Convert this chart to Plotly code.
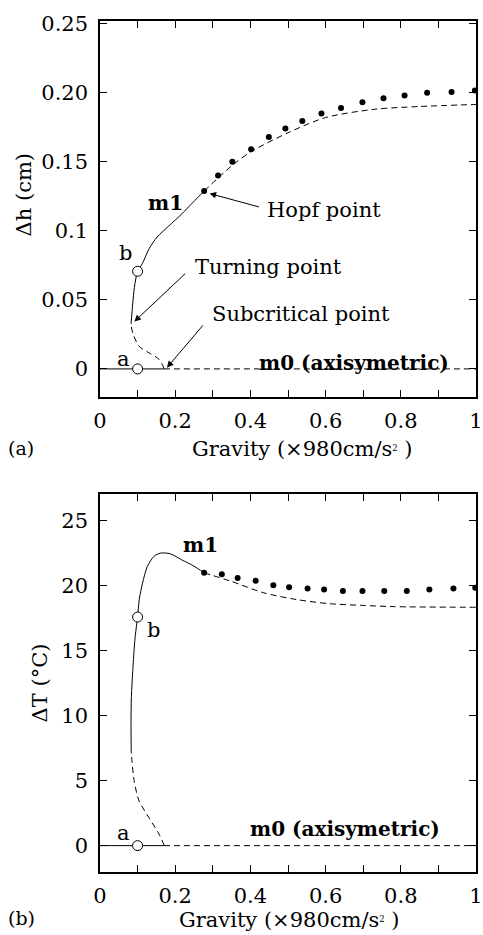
import plotly.graph_objects as go

# ---------------- data: panel (a) delta h ----------------
a_m0_stable_x = [0.0, 0.17]
a_m0_stable_y = [0.0, 0.0]
a_m0_unstable_x = [0.17, 1.0]
a_m0_unstable_y = [0.0, 0.0]
a_m1_low_x = [0.171, 0.157, 0.13, 0.104, 0.087, 0.0825]
a_m1_low_y = [0.0, 0.0069, 0.0117, 0.0164, 0.026, 0.0326]
a_m1_stable_x = [0.0825, 0.087, 0.0914, 0.100, 0.113, 0.1305, 0.152, 0.183, 0.2175, 0.248, 0.277]
a_m1_stable_y = [0.0326, 0.047, 0.059, 0.0707, 0.0765, 0.0870, 0.0955, 0.1035, 0.1122, 0.1208, 0.1288]
a_m1_unst_x = [0.277, 0.35, 0.4, 0.5, 0.6, 0.73, 0.85, 1.0]
a_m1_unst_y = [0.1288, 0.147, 0.157, 0.171, 0.182, 0.188, 0.190, 0.1915]
a_osc_x = [0.277, 0.314, 0.352, 0.402, 0.449, 0.493, 0.538, 0.589, 0.641, 0.698, 0.754, 0.810, 0.870, 0.935, 0.997]
a_osc_y = [0.1288, 0.140, 0.150, 0.159, 0.168, 0.174, 0.1795, 0.185, 0.189, 0.193, 0.196, 0.198, 0.200, 0.2005, 0.2016]
a_points_x = [0.1, 0.1]
a_points_y = [0.0, 0.0707]

# ---------------- data: panel (b) delta T ----------------
b_m0_stable_x = [0.0, 0.17]
b_m0_stable_y = [0.0, 0.0]
b_m0_unstable_x = [0.17, 1.0]
b_m0_unstable_y = [0.0, 0.0]
b_m1_low_x = [0.171, 0.157, 0.13, 0.104, 0.091, 0.085, 0.083]
b_m1_low_y = [0.0, 0.89, 2.16, 3.44, 4.96, 6.5, 7.3]
b_m1_stable_x = [0.083, 0.0825, 0.0835, 0.087, 0.091, 0.094, 0.100, 0.1044, 0.113, 0.126, 0.1436, 0.161, 0.187, 0.2175, 0.248, 0.277]
b_m1_stable_y = [7.3, 9.5, 11.5, 13.4, 15.2, 16.2, 17.6, 18.95, 20.2, 21.5, 22.27, 22.52, 22.47, 22.0, 21.55, 21.0]
b_m1_unst_x = [0.277, 0.348, 0.435, 0.522, 0.609, 0.696, 0.783, 1.0]
b_m1_unst_y = [21.0, 20.36, 19.47, 18.95, 18.63, 18.5, 18.4, 18.35]
b_osc_x = [0.277, 0.324, 0.366, 0.414, 0.461, 0.503, 0.552, 0.596, 0.646, 0.698, 0.756, 0.816, 0.876, 0.940, 0.998]
b_osc_y = [21.0, 20.9, 20.6, 20.4, 20.05, 19.9, 19.8, 19.72, 19.6, 19.6, 19.6, 19.6, 19.72, 19.8, 19.85]
b_points_x = [0.1, 0.1]
b_points_y = [0.0, 17.6]

x_tickvals = [0, 0.2, 0.4, 0.6, 0.8, 1.0]
x_ticktext = ["0", "0.2", "0.4", "0.6", "0.8", "1"]
a_y_tickvals = [0, 0.05, 0.1, 0.15, 0.20, 0.25]
a_y_ticktext = ["0", "0.05", "0.1", "0.15", "0.20", "0.25"]
b_y_tickvals = [0, 5, 10, 15, 20, 25]
b_y_ticktext = ["0", "5", "10", "15", "20", "25"]

FONT = "DejaVu Serif"
SOLID = dict(color="black", width=1)
DASH = dict(color="black", width=1, dash="6px,4px")

fig = go.Figure()


def add_panel(xa, ya, m0s, m0u, low, stab, unst, osc, pts):
    kw = dict(xaxis=xa, yaxis=ya, showlegend=False, hoverinfo="skip")
    fig.add_trace(go.Scatter(x=m0s[0], y=m0s[1], mode="lines", line=SOLID, **kw))
    fig.add_trace(go.Scatter(x=m0u[0], y=m0u[1], mode="lines", line=DASH, **kw))
    fig.add_trace(go.Scatter(x=low[0], y=low[1], mode="lines",
                             line=dict(DASH, shape="spline", smoothing=0.8), **kw))
    fig.add_trace(go.Scatter(x=stab[0], y=stab[1], mode="lines",
                             line=dict(SOLID, shape="spline", smoothing=0.8), **kw))
    fig.add_trace(go.Scatter(x=unst[0], y=unst[1], mode="lines",
                             line=dict(DASH, shape="spline", smoothing=0.8), **kw))
    fig.add_trace(go.Scatter(x=osc[0], y=osc[1], mode="markers",
                             marker=dict(color="black", size=6), **kw))
    fig.add_trace(go.Scatter(x=pts[0], y=pts[1], mode="markers",
                             marker=dict(color="white", size=10, line=dict(color="black", width=1)), **kw))


add_panel("x", "y", (a_m0_stable_x, a_m0_stable_y), (a_m0_unstable_x, a_m0_unstable_y),
          (a_m1_low_x, a_m1_low_y), (a_m1_stable_x, a_m1_stable_y),
          (a_m1_unst_x, a_m1_unst_y), (a_osc_x, a_osc_y), (a_points_x, a_points_y))
add_panel("x2", "y2", (b_m0_stable_x, b_m0_stable_y), (b_m0_unstable_x, b_m0_unstable_y),
          (b_m1_low_x, b_m1_low_y), (b_m1_stable_x, b_m1_stable_y),
          (b_m1_unst_x, b_m1_unst_y), (b_osc_x, b_osc_y), (b_points_x, b_points_y))

W, H = 483, 935
L = 100

axis_common = dict(showline=True, linecolor="black", linewidth=1.5, mirror="ticks",
                   ticks="inside", ticklen=7, tickwidth=1, tickcolor="black",
                   showgrid=False, zeroline=False, tickmode="array",
                   tickfont=dict(family=FONT, size=21, color="black"),
                   ticklabeloverflow="allow")
x_common = dict(axis_common, range=[0, 1.0], tickvals=x_tickvals, ticktext=x_ticktext,
                minor=dict(ticks="inside", ticklen=7, tickwidth=1, tickcolor="black", dtick=0.1, tick0=0),
                ticklabelstandoff=4)

fig.update_layout(
    width=W, height=H,
    margin=dict(l=L, r=1, t=0, b=0),
    paper_bgcolor="white", plot_bgcolor="white",
    font=dict(family=FONT, color="black"),
    xaxis=dict(x_common, domain=[0, 1], anchor="y"),
    yaxis=dict(axis_common, domain=[1 - 392 / H, 1 - 12 / H], range=[-0.0205, 0.252],
               tickvals=a_y_tickvals, ticktext=a_y_ticktext, anchor="x", ticklabelstandoff=6),
    xaxis2=dict(x_common, domain=[0, 1], anchor="y2"),
    yaxis2=dict(axis_common, domain=[1 - 871 / H, 1 - 490 / H], range=[-2.0, 27.05],
                tickvals=b_y_tickvals, ticktext=b_y_ticktext, anchor="x2", ticklabelstandoff=6),
)

ann = []
TF = dict(family=FONT, size=21, color="black")
BF = dict(family=FONT, size=20, color="black")


def txt(x, y, t, xref, yref, font=TF, xanchor="left", **k):
    ann.append(dict(x=x, y=y, text=t, xref=xref, yref=yref, showarrow=False,
                    font=font, xanchor=xanchor, yanchor="middle", **k))


def arrow(x, y, ax, ay, xref, yref):
    ann.append(dict(x=x, y=y, ax=ax, ay=ay, xref=xref, yref=yref, axref=xref, ayref=yref,
                    text="", showarrow=True, arrowhead=2, arrowsize=1.3, arrowwidth=1,
                    arrowcolor="black"))


# panel (a) labels
txt(0.122, 0.12, "<b>m1</b>", "x", "y", BF)
txt(0.069, 0.0836, "b", "x", "y", TF, xanchor="center")
txt(0.063, 0.0074, "a", "x", "y", TF, xanchor="center")
txt(0.439, 0.115, "Hopf point", "x", "y")
txt(0.248, 0.0736, "Turning point", "x", "y")
txt(0.293, 0.0398, "Subcritical point", "x", "y")
txt(0.418, 0.0045, "<b>m0 (axisymetric)</b>", "x", "y", BF)
arrow(0.2915, 0.127, 0.4265, 0.117, "x", "y")
arrow(0.0914, 0.0343, 0.2306, 0.070, "x", "y")
arrow(0.178, 0.0009, 0.277, 0.0326, "x", "y")

# panel (b) labels
txt(0.216, 23.15, "<b>m1</b>", "x2", "y2", BF)
txt(0.142, 16.6, "b", "x2", "y2", TF, xanchor="center")
txt(0.063, 1.0, "a", "x2", "y2", TF, xanchor="center")
txt(0.393, 1.27, "<b>m0 (axisymetric)</b>", "x2", "y2", BF)


def px(p):
    return (p - L) / (W - L - 1)


def py(p):
    return 1 - p / H


TITLE = dict(family=FONT, size=21, color="black")
GTITLE = "Gravity (×980cm/s<span style='font-size:12px'><sup>2</sup></span> )"
txt(px(306), py(444), GTITLE, "paper", "paper", TITLE, xanchor="center")
txt(px(293), py(920), GTITLE, "paper", "paper", TITLE, xanchor="center")
txt(px(23), py(188), "Δh (cm)", "paper", "paper", TITLE, xanchor="center", textangle=-90)
txt(px(40), py(680), "ΔT (°C)", "paper", "paper", TITLE, xanchor="center", textangle=-90)
txt(px(4), py(443), "(a)", "paper", "paper", dict(family=FONT, size=19, color="black"))
txt(px(4), py(918), "(b)", "paper", "paper", dict(family=FONT, size=19, color="black"))

fig.update_layout(annotations=ann)
fig.write_html("out.html")
